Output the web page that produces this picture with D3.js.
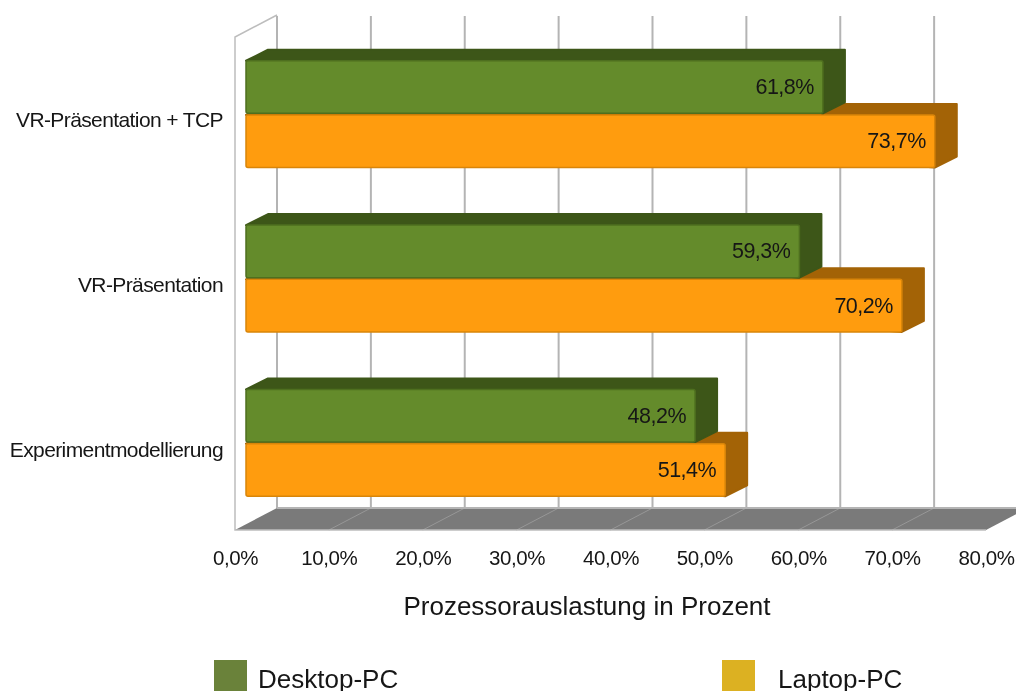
<!DOCTYPE html>
<html>
<head>
<meta charset="utf-8">
<script src="https://cdnjs.cloudflare.com/ajax/libs/d3/7.8.5/d3.min.js"></script>
<style>
  html, body { margin: 0; padding: 0; background: #fff; }
  svg { display: block; font-family: "Liberation Sans", Arial, sans-serif; filter: blur(0.45px); }
</style>
</head>
<body>
<div id="chart"></div>
<script>
const categories = ['VR-Präsentation + TCP', 'VR-Präsentation', 'Experimentmodellierung'];
const seriesNames = ['Desktop-PC', 'Laptop-PC'];
const desktopValues = [61.8, 59.3, 48.2];
const laptopValues = [73.7, 70.2, 51.4];
const axisTicks = [0, 10, 20, 30, 40, 50, 60, 70, 80];
const axisTitle = 'Prozessorauslastung in Prozent';

const width = 1016, height = 691;
const fmt = d3.formatLocale({ decimal: ',', thousands: '.', grouping: [3], currency: ['', ''] }).format('.1f');

// fake 3d: front edge of the floor, shifted up and right for the back wall
const floorY = 530, depthX = 42, depthY = 22, wallTop = 37;
const barDepthX = 22, barDepthY = 11, barStart = 246;

const xFront = d3.scaleLinear().domain([0, 80]).range([235, 986]);
const xBack = v => xFront(v) + depthX;
const xBar = d3.scaleLinear().domain([0, 80]).range([242, 994]);

const yGroup = d3.scaleBand().domain(categories).range([32, 525]).paddingInner(0.35).paddingOuter(0.175);
const ySeries = d3.scaleBand().domain(seriesNames).range([0, yGroup.bandwidth()]).paddingInner(0.03);

const styles = {
  'Desktop-PC': { front: '#648b2b', edge: '#4e6f1f', dark: '#3d5618', legend: '#6a823a' },
  'Laptop-PC': { front: '#ff9c0e', edge: '#d98509', dark: '#a36306', legend: '#dcb122' }
};

const svg = d3.select('#chart').append('svg')
  .attr('width', width)
  .attr('height', height)
  .attr('viewBox', `0 0 ${width} ${height}`);

const plot = svg.append('g');

// floor
plot.append('path')
  .attr('d', d3.line()([
    [xFront(0), floorY],
    [xBack(0), floorY - depthY],
    [xBack(80), floorY - depthY],
    [xFront(80), floorY]
  ]) + 'Z')
  .attr('fill', '#7a7a7a');

plot.selectAll('line.floor-tick')
  .data(axisTicks.slice(1, -1))
  .join('line')
  .attr('class', 'floor-tick')
  .attr('x1', d => xFront(d))
  .attr('x2', d => xBack(d))
  .attr('y1', floorY)
  .attr('y2', floorY - depthY)
  .attr('stroke', '#979797')
  .attr('stroke-width', 1);

// back wall grid
plot.selectAll('line.grid')
  .data(axisTicks.slice(0, -1))
  .join('line')
  .attr('class', 'grid')
  .attr('x1', d => xBack(d))
  .attr('x2', d => xBack(d))
  .attr('y1', wallTop - depthY + 1)
  .attr('y2', floorY - depthY)
  .attr('stroke', '#b4b4b4')
  .attr('stroke-width', 2);

// side wall and floor outline
plot.append('path')
  .attr('d', d3.line()([
    [xBack(0), wallTop - depthY],
    [xFront(0), wallTop],
    [xFront(0), floorY],
    [xFront(80), floorY]
  ]))
  .attr('fill', 'none')
  .attr('stroke', '#bdbdbd')
  .attr('stroke-width', 1.5);

plot.append('line')
  .attr('x1', xBack(0))
  .attr('x2', xBack(80))
  .attr('y1', floorY - depthY)
  .attr('y2', floorY - depthY)
  .attr('stroke', '#b4b4b4')
  .attr('stroke-width', 2);

// bars, laptop first because the desktop bar sits in front of its top face
const rows = categories.flatMap((c, i) => [
  { category: c, series: seriesNames[1], value: laptopValues[i] },
  { category: c, series: seriesNames[0], value: desktopValues[i] }
]);

const bars = plot.selectAll('g.bar')
  .data(rows)
  .join('g')
  .attr('class', 'bar')
  .attr('stroke-linejoin', 'round');

function barY(d) { return yGroup(d.category) + ySeries(d.series); }

bars.append('path')
  .attr('d', d => {
    const y = barY(d), r = xBar(d.value), h = ySeries.bandwidth();
    return d3.line()([
      [barStart, y],
      [barStart + barDepthX, y - barDepthY],
      [r + barDepthX, y - barDepthY],
      [r + barDepthX, y + h - barDepthY],
      [r, y + h]
    ]) + 'Z';
  })
  .attr('fill', d => styles[d.series].dark)
  .attr('stroke', d => styles[d.series].dark)
  .attr('stroke-width', 2);

bars.append('rect')
  .attr('x', barStart)
  .attr('y', barY)
  .attr('width', d => xBar(d.value) - barStart)
  .attr('height', ySeries.bandwidth())
  .attr('rx', 2)
  .attr('fill', d => styles[d.series].front)
  .attr('stroke', d => styles[d.series].edge)
  .attr('stroke-width', 1.5);

bars.append('text')
  .attr('x', d => xBar(d.value) - 9)
  .attr('y', d => barY(d) + ySeries.bandwidth() / 2 + 7)
  .attr('text-anchor', 'end')
  .attr('font-size', 21.5)
  .attr('letter-spacing', -0.5)
  .attr('fill', '#161616')
  .text(d => fmt(d.value) + '%');

// axes
const xAxis = svg.append('g')
  .attr('transform', `translate(0,${floorY})`)
  .call(d3.axisBottom(xFront).tickValues(axisTicks).tickSize(0).tickPadding(20).tickFormat(d => fmt(d) + '%'));
xAxis.select('.domain').remove();
xAxis.selectAll('text')
  .attr('font-family', '"Liberation Sans", Arial, sans-serif')
  .attr('font-size', 20.5)
  .attr('letter-spacing', -0.4)
  .attr('fill', '#161616');

const yAxis = svg.append('g')
  .attr('transform', 'translate(223,0)')
  .call(d3.axisLeft(d3.scalePoint().domain(categories).range([yGroup(categories[0]) + yGroup.bandwidth() / 2 + 6, yGroup(categories[2]) + yGroup.bandwidth() / 2 + 7]))
    .tickSize(0).tickPadding(0));
yAxis.select('.domain').remove();
yAxis.selectAll('text')
  .attr('font-family', '"Liberation Sans", Arial, sans-serif')
  .attr('font-size', 21)
  .attr('letter-spacing', -0.6)
  .attr('fill', '#161616');

svg.append('text')
  .attr('x', 587)
  .attr('y', 615)
  .attr('text-anchor', 'middle')
  .attr('font-size', 26)
  .attr('fill', '#161616')
  .text(axisTitle);

// legend
const legendX = d3.scaleOrdinal().domain(seriesNames).range([214, 722]);
const legendLabelX = d3.scaleOrdinal().domain(seriesNames).range([258, 778]);

const legend = svg.selectAll('g.legend')
  .data(seriesNames)
  .join('g')
  .attr('class', 'legend');

legend.append('rect')
  .attr('x', d => legendX(d))
  .attr('y', 660)
  .attr('width', 33)
  .attr('height', 33)
  .attr('fill', d => styles[d].legend);

legend.append('text')
  .attr('x', d => legendLabelX(d))
  .attr('y', 688)
  .attr('font-size', 26)
  .attr('fill', '#161616')
  .text(d => d);
</script>
</body>
</html>
